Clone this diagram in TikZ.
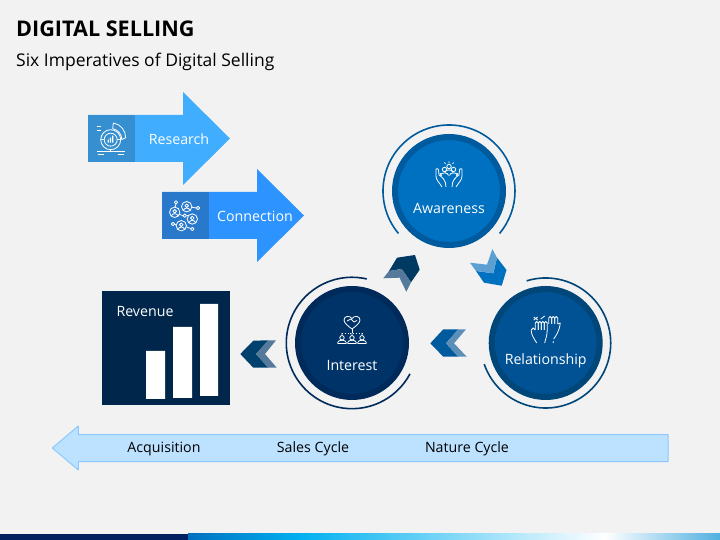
\documentclass[tikz,border=0pt]{standalone}
\usepackage{fontspec}
\setmainfont{Open Sans}
\definecolor{pagegray}{HTML}{F2F2F2}
\definecolor{researchblue}{HTML}{40ADFF}
\definecolor{researchbox}{HTML}{368FD0}
\definecolor{connectblue}{HTML}{2D94FF}
\definecolor{connectbox}{HTML}{2878CC}
\definecolor{awarefill}{HTML}{0070C0}
\definecolor{awarering}{HTML}{005A9E}
\definecolor{relatefill}{HTML}{005294}
\definecolor{relatering}{HTML}{004679}
\definecolor{interestfill}{HTML}{003469}
\definecolor{interestring}{HTML}{002A5A}
\definecolor{revenuenavy}{HTML}{00274B}
\definecolor{chevmid}{HTML}{005A9E}
\definecolor{chevmidlight}{HTML}{5C8FB8}
\definecolor{chevdark}{HTML}{00406E}
\definecolor{chevgray}{HTML}{54799A}
\definecolor{chevbright}{HTML}{5B9FD3}
\definecolor{cycleblue}{HTML}{BDE2FF}
\definecolor{cycleedge}{HTML}{8CC8FF}
\definecolor{footernavy}{HTML}{002060}
\definecolor{footersky}{HTML}{00B0F0}
\definecolor{footerend}{HTML}{4FB0E0}
\tikzset{
  stagecircle/.style={circle,minimum size=108bp,inner sep=0pt,line width=6bp},
  stagearc/.style={line width=1.6bp},
  bodytext/.style={font=\fontsize{14.2bp}{17bp}\selectfont,anchor=base},
  whitetext/.style={bodytext,text=white},
  iconline/.style={draw=white,line width=0.8bp},
  pics/iconresearch/.style={code={
    \draw [iconline] (0,0) circle (10) (0,0) circle (6.5);
    \fill [white] (-3,-3) rectangle (-1.8,0) (-0.8,-3) rectangle (0.4,2) (1.4,-3) rectangle (2.6,4);
    \draw [iconline] (2,11) arc (80:0:11) -- (15,2) arc (0:80:15) -- cycle;
    \draw [iconline] (-14,-12) -- (14,-12) (0,-10) -- (0,-12) (-10,0) -- (-6.5,0) (6.5,0) -- (10,0);
    \draw [iconline] (-13,-15) -- (-7,-15) (7,-15) -- (13,-15) (-14,13) -- (-10,13) (-14,9) -- (-10,9);
  }},
  pics/iconconnect/.style={code={
    \foreach \px/\py in {1.2/9.3,-10.8/3.7,6.8/-3,-4.2/-9.7} {
      \draw [iconline] (\px,\py) circle (5.2) (\px,\py+1) circle (1.8);
      \draw [iconline] (\px-3.5,\py-3.8) .. controls (\px-2,\py-0.5) and (\px+2,\py-0.5) .. (\px+3.5,\py-3.8);
    }
    \draw [iconline] (-9.5,13.7) circle (1.7) (12.5,8) circle (1.7) (-0.8,0.3) circle (1.7) (-12.5,-8) circle (1.7) (6.8,-13) circle (1.7);
    \draw [iconline] (-9.5,12) -- (-10.5,8.9) (6.4,8.8) -- (10.8,8) (-6.5,1.8) -- (-2.5,0.3) (0.9,0.3) -- (3,0.5) (-10.7,-8.4) -- (-9.4,-8.8) (1,-11) -- (5.2,-12.5);
  }},
  pics/iconhands/.style={code={
    \foreach \s in {1,-1} {
      \draw [iconline,xscale=\s] (7,-12) .. controls (10,-7) and (13,-5) .. (13,-1) -- (13,6) .. controls (11.5,7) and (10.5,6) .. (10.5,5) -- (10,0) .. controls (7,-2) and (3,-5) .. (3,-12);
      \draw [iconline,xscale=\s] (7.5,-1) -- (9,2);
    }
    \foreach \px/\py in {0/8.5,-4.5/5.5,4.5/5.5} {
      \draw [iconline] (\px,\py) circle (2.2);
      \draw [iconline] (\px-4,\py-6) .. controls (\px-4,\py-2.5) and (\px+4,\py-2.5) .. (\px+4,\py-6);
    }
    \draw [iconline] (0,11.5) -- (0,13.5) (-3.5,11) -- (-4.5,12.5) (3.5,11) -- (4.5,12.5);
  }},
  pics/iconheart/.style={code={
    \draw [iconline] (0,1) .. controls (-4,4) and (-8,7) .. (-8,10) .. controls (-8,14.5) and (-2,14.5) .. (0,11.5) .. controls (2,14.5) and (8,14.5) .. (8,10) .. controls (8,7) and (4,4) .. (0,1);
    \draw [iconline] (-5,9) -- (-1,11) -- (2,8) -- (5,9.5);
    \draw [iconline] (0,1) -- (0,-3);
    \draw [iconline,dotted] (-10,-3) -- (10,-3);
    \foreach \px in {-10,0,10} {
      \draw [iconline] (\px,-3) -- (\px,-5.6) (\px,-7.8) circle (2.2);
      \draw [iconline] (\px-4.3,-13.5) -- (\px-4.3,-12.5) .. controls (\px-4,-9.5) and (\px+4,-9.5) .. (\px+4.3,-12.5) -- (\px+4.3,-13.5) -- cycle;
    }
  }},
  pics/iconpalms/.style={code={
    \foreach \px in {-10.5,-7.5,-4.5,-1.5} {
      \draw [iconline] (\px,-2) -- (\px,5) arc (180:0:1.5) -- (\px+3,-2);
    }
    \draw [iconline] (-10.5,-2) -- (-12.5,0) -- (-14.5,-2) .. controls (-14.5,-7) and (-12,-10) .. (-9,-15);
    \draw [iconline] (1.5,-2) .. controls (1.5,-8) and (0,-10) .. (-1,-15);
    \foreach \px in {3,6,9} {
      \draw [iconline] (\px,4) -- (\px,10) arc (180:0:1.5) -- (\px+3,4);
    }
    \draw [iconline] (12,4) -- (14.5,5) .. controls (14,-3) and (10,-8) .. (8,-11);
    \draw [iconline] (7.6,-13) -- (7.4,-15);
    \draw [iconline] (-12,11) -- (-8,8) (-12,8) -- (-8,11) (-5,9) -- (-1,12);
  }},
}
\begin{document}
\begin{tikzpicture}[x=1bp,y=1bp,line join=bevel,]
\useasboundingbox (0,0) rectangle (720,540);
\fill [pagegray] (0,0) rectangle (720,540);
%% title
\node (node_title) at (16,503) [anchor=base west,inner sep=0pt,font=\fontsize{21.6bp}{24bp}\selectfont\bfseries] {DIGITAL SELLING};
\node (node_subtitle) at (16,473.5) [anchor=base west,inner sep=0pt,font=\fontsize{17.5bp}{20bp}\selectfont] {Six Imperatives of Digital Selling};
%% top arrows
\fill [researchblue] (88,425) -- (183,425) -- (183,448) -- (230,401.5) -- (183,355) -- (183,378) -- (88,378) -- cycle;
\fill [researchbox] (88,378) rectangle (135,425);
\pic at (110.7,400.3) {iconresearch};
\node (node_research) at (179,395.5) [whitetext] {Research};
\fill [connectblue] (162,348) -- (257,348) -- (257,371) -- (304,324.5) -- (257,278) -- (257,301) -- (162,301) -- cycle;
\fill [connectbox] (162,301) rectangle (209,348);
\pic at (185.5,324) {iconconnect};
\node (node_connection) at (255,318.5) [whitetext] {Connection};
%% stages
\node (node_awareness) at (449,349) [stagecircle,draw=awarering,fill=awarefill] {};
\node (node_relationship) at (545.7,197) [stagecircle,draw=relatering,fill=relatefill] {};
\node (node_interest) at (352,197) [stagecircle,draw=interestring,fill=interestfill] {};
\draw [stagearc,draw=awarering] (node_awareness.center) ++(220:66) arc [start angle=220,end angle=-40,radius=66];
\draw [stagearc,draw=relatering] (node_relationship.center) ++(107:65) arc [start angle=107,end angle=-161,radius=65];
\draw [stagearc,draw=interestring] (node_interest.center) ++(77:65.7) arc [start angle=77,end angle=332,radius=65.7];
\pic at (449,365) {iconhands};
\pic at (352,210) {iconheart};
\pic at (545.7,212) {iconpalms};
\node (label_awareness) at (449,326.7) [whitetext] {Awareness};
\node (label_relationship) at (545.7,175.7) [whitetext] {Relationship};
\node (label_interest) at (352,169) [whitetext] {Interest};
%% chevrons
\fill [chevdark!90!black] (389,269) -- (397,282.3) -- (415,285) -- (419.7,270.3) -- (411,257.7) -- (401.7,271) -- cycle;
\fill [chevgray] (383.3,261.7) -- (389,269) -- (401.7,271) -- (411,257.7) -- (406.3,248.3) -- (399.5,262.3) -- cycle;
\fill [awarefill] (476,269) -- (493.3,266.7) -- (497,282.3) -- (506.5,270) -- (501.7,254.3) -- (484,257.3) -- cycle;
\fill [chevbright] (470,277.3) -- (487,275.3) -- (492.3,291) -- (497,282.3) -- (493.3,266.7) -- (476,269) -- cycle;
\fill [chevmid] (430.3,196.7) -- (443.3,210.7) -- (458.3,210.7) -- (446,196.7) -- (458.3,183.3) -- (443.3,183.3) -- cycle;
\fill [chevmidlight] (446,196.7) -- (458.3,210.7) -- (466,210.7) -- (454,196.7) -- (466.7,183.3) -- (458.3,183.3) -- cycle;
\fill [chevdark] (240.3,186) -- (253.3,199.3) -- (268.3,199.7) -- (256,186) -- (268.3,172.3) -- (253.3,172.3) -- cycle;
\fill [chevgray] (256,186) -- (268.3,199.7) -- (276,199.7) -- (265,186) -- (276.7,172.3) -- (268.3,172.3) -- cycle;
%% revenue
\fill [revenuenavy] (102,135) rectangle (230,249);
\fill [white] (146,141) rectangle (165,189) (173,142) rectangle (192,213) (200,144) rectangle (218,236);
\node (node_revenue) at (145,223.7) [whitetext] {Revenue};
%% bottom arrow
\draw [draw=cycleedge,fill=cycleblue,line width=1bp] (52.3,92) -- (78.3,114) -- (78.3,105.3) -- (668,105.3) -- (668,78.3) -- (78.3,78.3) -- (78.3,70) -- cycle;
\node (node_acquisition) at (164,87) [bodytext] {Acquisition};
\node (node_sales) at (313,87) [bodytext] {Sales Cycle};
\node (node_nature) at (467,87) [bodytext] {Nature Cycle};
%% footer
\fill [footernavy] (0,0) rectangle (188,6);
\shade [left color=awarefill,right color=footersky] (188,0) rectangle (300,6);
\shade [left color=footersky,right color=white] (300,0) rectangle (605,6);
\shade [left color=white,right color=footerend] (605,0) rectangle (720,6);
\end{tikzpicture}
\end{document}
